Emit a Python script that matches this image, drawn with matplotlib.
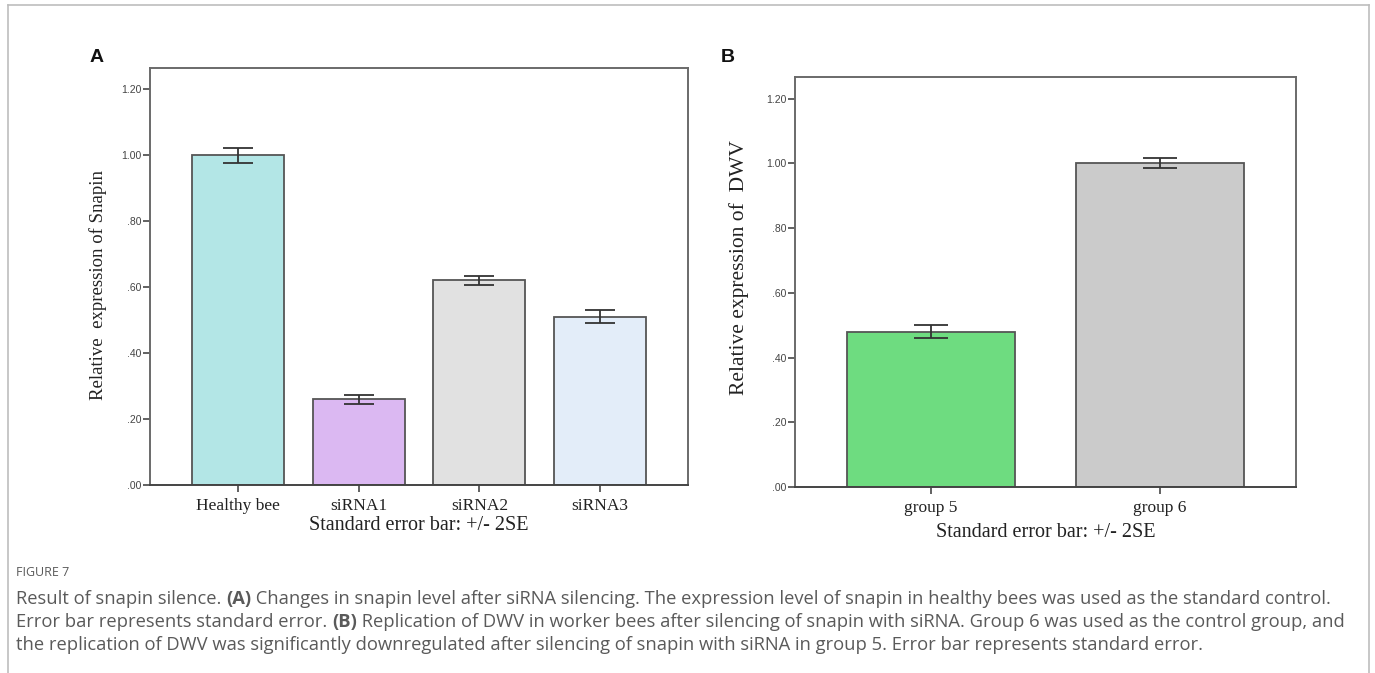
import matplotlib
matplotlib.use("Agg")
import matplotlib.pyplot as plt
from matplotlib.lines import Line2D

# ---------------- data ----------------
cats_a = ["Healthy bee", "siRNA1", "siRNA2", "siRNA3"]
vals_a = [1.00, 0.26, 0.62, 0.51]
errs_a = [0.023, 0.014, 0.014, 0.020]
colors_a = ["#b3e6e6", "#dbb8f2", "#e1e1e1", "#e3edf9"]

cats_b = ["group 5", "group 6"]
vals_b = [0.48, 1.00]
errs_b = [0.020, 0.015]
colors_b = ["#6edc80", "#cbcbcb"]

yticks = [0.0, 0.2, 0.4, 0.6, 0.8, 1.0, 1.2]
ytick_labels = [".00", ".20", ".40", ".60", ".80", "1.00", "1.20"]

ylabel_a = "Relative  expression of Snapin"
ylabel_b = "Relative expression of  DWV"
xlabel = "Standard error bar: +/- 2SE"

caption_title = "FIGURE 7"
caption_lines = [
    [("Result of snapin silence. ", "normal"), ("(A)", "bold"),
     (" Changes in snapin level after siRNA silencing. The expression level of snapin in healthy bees was used as the standard control.", "normal")],
    [("Error bar represents standard error. ", "normal"), ("(B)", "bold"),
     (" Replication of DWV in worker bees after silencing of snapin with siRNA. Group 6 was used as the control group, and", "normal")],
    [("the replication of DWV was significantly downregulated after silencing of snapin with siRNA in group 5. Error bar represents standard error.", "normal")],
]

cap_font = "Open Sans"
serif = "Liberation Serif"
sans = "Liberation Sans"

W, H = 1375, 673
fig = plt.figure(figsize=(W / 100, H / 100), dpi=100)
fig.patch.set_facecolor("white")


def fx(px):
    return px / W


def fy(py):
    return 1 - py / H


def panel(rect, cats, vals, errs, colors, ylabel, ylab_size, ylab_xy, ytop, xpad, width,
          capsize, xlab_pad, letter, letter_xy):
    l, t, r, b = rect
    ax = fig.add_axes([fx(l), fy(b), fx(r) - fx(l), fy(t) - fy(b)])
    x = list(range(len(cats)))
    ax.bar(x, vals, width=width, color=colors, edgecolor="#555555", linewidth=1.3, zorder=2)
    ax.errorbar(x, vals, yerr=errs, fmt="none", ecolor="#333333", elinewidth=1.3,
                capsize=capsize, capthick=1.3, zorder=3)
    ax.set_xlim(-xpad, len(cats) - 1 + xpad)
    ax.set_ylim(0, ytop)
    ax.set_yticks(yticks)
    ax.set_yticklabels(ytick_labels, fontfamily=sans, fontsize=7.5, color="#444444")
    ax.set_xticks(x)
    ax.set_xticklabels(cats, fontfamily=serif, fontsize=12.5, color="#222222")
    for s in ax.spines.values():
        s.set_color("#6a6a6a")
        s.set_linewidth(1.4)
    ax.spines["bottom"].set_color("#444444")
    ax.tick_params(axis="y", length=5, width=1.3, color="#555555", pad=1)
    ax.tick_params(axis="x", length=5, width=1.3, color="#555555", pad=4)
    ax.set_ylabel(ylabel, fontfamily=serif, fontsize=ylab_size, color="#222222")
    ax.yaxis.set_label_coords((ylab_xy[0] - l) / (r - l), (b - ylab_xy[1]) / (b - t))
    ax.set_xlabel(xlabel, fontfamily=serif, fontsize=14.5, color="#222222", labelpad=xlab_pad)
    fig.text(fx(letter_xy[0]), fy(letter_xy[1]), letter, fontfamily=sans, fontweight="bold",
             fontsize=14, ha="center", va="center", color="#111111")
    return ax


ax_a = panel((150, 68, 688, 485), cats_a, vals_a, errs_a, colors_a, ylabel_a, 13.5, (107, 285),
             1.264, 0.727, 0.76, 10.8, 1.5, "A", (97, 58))
ax_b = panel((795, 76.7, 1296, 487), cats_b, vals_b, errs_b, colors_b, ylabel_b, 15.5, (749, 268),
             1.2675, 0.594, 0.73, 12.5, 5.5, "B", (728, 58))

# ---------------- caption ----------------
cap_color = "#5a5a5a"
cap_size = 11.5
fig.text(fx(16), fy(572), caption_title, fontfamily=cap_font, fontsize=9,
         color=cap_color, ha="left", va="center")
line_y = [599, 622, 645]
cap_texts = []
line_last = []
for ly, parts in zip(line_y, caption_lines):
    prev = None
    for txt, wt in parts:
        if prev is None:
            prev = fig.text(fx(16), fy(ly), txt, fontfamily=cap_font, fontsize=cap_size,
                            fontweight=wt, color=cap_color, ha="left", va="center")
        else:
            prev = ax_a.annotate(txt, xy=(1, 0), xycoords=prev, ha="left", va="bottom",
                                 fontfamily=cap_font, fontsize=cap_size, fontweight=wt,
                                 color=cap_color, annotation_clip=False)
        cap_texts.append(prev)
    line_last.append(prev)

# fit first caption line width to the reference (ends near x=1337)
fig.canvas.draw()
r = fig.canvas.get_renderer()
right = line_last[0].get_window_extent(r).x1
scale = (1337 - 16) / (right - 16)
for t in cap_texts:
    t.set_fontsize(cap_size * scale)

# outer frame (top, left, right)
frame_c = "#bdbdbd"
fig.add_artist(Line2D([fx(8), fx(1369)], [fy(5), fy(5)], color=frame_c, lw=1.2))
fig.add_artist(Line2D([fx(8), fx(8)], [fy(5), 0], color=frame_c, lw=1.2))
fig.add_artist(Line2D([fx(1369), fx(1369)], [fy(5), 0], color=frame_c, lw=1.2))

fig.savefig("out.png", dpi=100, facecolor="white")
